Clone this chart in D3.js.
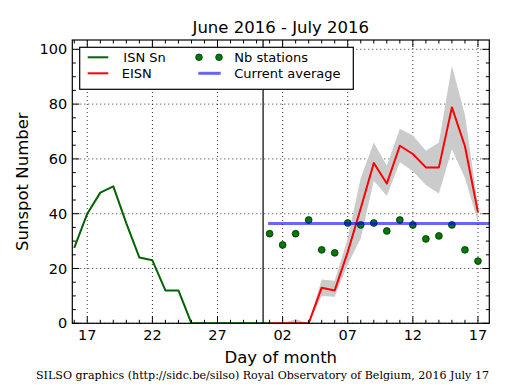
<!DOCTYPE html>
<html>
<head>
<meta charset="utf-8">
<script src="https://cdn.jsdelivr.net/npm/d3@7"></script>
<style>
  html, body { margin: 0; padding: 0; background: #fff; }
  svg { display: block; }
  text { font-family: "DejaVu Sans", sans-serif; fill: #000; }
  text.credit { font-family: "DejaVu Serif", "Liberation Serif", serif; }
</style>
</head>
<body>
<svg id="chart" width="515" height="390"></svg>
<script>
// ---------------- data ----------------
const isnDates = ["2016-06-16","2016-06-17","2016-06-18","2016-06-19","2016-06-20","2016-06-21","2016-06-22","2016-06-23","2016-06-24","2016-06-25","2016-06-26","2016-06-27","2016-06-28","2016-06-29","2016-06-30","2016-07-01"];
const isnValues = [27.5, 40, 47.7, 50, 36.5, 24, 23, 12, 12, 0, 0, 0, 0, 0, 0, 0];

const eisnDates = ["2016-07-01","2016-07-02","2016-07-03","2016-07-04","2016-07-05","2016-07-06","2016-07-07","2016-07-08","2016-07-09","2016-07-10","2016-07-11","2016-07-12","2016-07-13","2016-07-14","2016-07-15","2016-07-16","2016-07-17"];
const eisnValues = [0, 0, 0, 0, 13, 12, 26, 42, 58.5, 51, 64.8, 61.8, 56.9, 56.9, 78.8, 64.6, 40.5];
const eisnUpper  = [0, 0, 1.5, 0, 16, 15.5, 31, 53, 66, 57.5, 71, 68.5, 63, 66, 94, 76, 43];
const eisnLower  = [0, 0, 0, 0, 10, 9.7, 21.5, 31, 52, 46.5, 58.8, 55.5, 50.5, 47.4, 63.5, 53, 37];
const nbStations = [32.7, 28.6, 32.7, 37.7, 26.8, 25.7, 36.6, 35.9, 36.6, 33.7, 37.7, 35.9, 30.8, 31.9, 35.9, 26.8, 22.7];

const currentAverage = 36.4;
const averageStart = "2016-07-01";
const monthBoundary = "2016-06-30T12:00:00Z";

const xTickDates = ["2016-06-17","2016-06-22","2016-06-27","2016-07-02","2016-07-07","2016-07-12","2016-07-17"];
const xDomain = ["2016-06-15T20:24:00Z","2016-07-17T20:53:00Z"];
const yMajorTicks = [0, 20, 40, 60, 80, 100];
const yDomain = [0, 103.4];

const titleText = "June 2016 - July 2016";
const xLabel = "Day of month";
const yLabel = "Sunspot Number";
const creditText = "SILSO graphics (http://sidc.be/silso) Royal Observatory of Belgium, 2016 July 17";
const legendLabels = ["ISN Sn", "EISN", "Nb stations", "Current average"];

// ---------------- layout ----------------
const svg = d3.select("#chart");
const L = 72.3, R = 489.3, T = 40, B = 323.3;
const parse = s => new Date(s.length === 10 ? s + "T00:00:00Z" : s);

const x = d3.scaleUtc().domain(xDomain.map(parse)).range([L, R]);
const y = d3.scaleLinear().domain(yDomain).range([B, T]);

const defs = svg.append("defs");
defs.append("clipPath").attr("id", "clip")
  .append("rect").attr("x", L).attr("y", T).attr("width", R - L).attr("height", B - T);

// grid
const grid = svg.append("g");
xTickDates.forEach(d => {
  grid.append("line").attr("x1", x(parse(d))).attr("x2", x(parse(d)))
    .attr("y1", T).attr("y2", B)
    .attr("stroke", "#000").attr("stroke-width", 0.8).attr("stroke-dasharray", "1,3");
});
yMajorTicks.forEach(v => {
  grid.append("line").attr("x1", L).attr("x2", R).attr("y1", y(v)).attr("y2", y(v))
    .attr("stroke", "#000").attr("stroke-width", 0.8).attr("stroke-dasharray", "1,3");
});

const plot = svg.append("g").attr("clip-path", "url(#clip)");

const eisn = eisnDates.map((d, i) => ({ d: parse(d), v: eisnValues[i], hi: eisnUpper[i], lo: eisnLower[i], n: nbStations[i] }));
const isn = isnDates.map((d, i) => ({ d: parse(d), v: isnValues[i] }));

// uncertainty band
plot.append("path").datum(eisn)
  .attr("d", d3.area().x(p => x(p.d)).y0(p => y(p.lo)).y1(p => y(p.hi)))
  .attr("fill", "#cbcbcb").attr("stroke", "none");

// ISN line
plot.append("path").datum(isn)
  .attr("d", d3.line().x(p => x(p.d)).y(p => y(p.v)))
  .attr("fill", "none").attr("stroke", "#006400").attr("stroke-width", 2).attr("stroke-linejoin", "round");

// EISN line
plot.append("path").datum(eisn)
  .attr("d", d3.line().x(p => x(p.d)).y(p => y(p.v)))
  .attr("fill", "none").attr("stroke", "#ff0000").attr("stroke-width", 2).attr("stroke-linejoin", "round");

// vertical month boundary
svg.append("line").attr("x1", x(parse(monthBoundary))).attr("x2", x(parse(monthBoundary)))
  .attr("y1", T).attr("y2", B).attr("stroke", "#000").attr("stroke-width", 1.2);

// station dots
plot.selectAll("circle.nb").data(eisn).join("circle").attr("class", "nb")
  .attr("cx", p => x(p.d)).attr("cy", p => y(p.n)).attr("r", 3.4)
  .attr("fill", "#007a00").attr("stroke", "#0a2a0a").attr("stroke-width", 0.8);

// current average line
plot.append("line")
  .attr("x1", x(parse(averageStart))).attr("x2", R)
  .attr("y1", y(currentAverage)).attr("y2", y(currentAverage))
  .attr("stroke", "rgba(0,0,255,0.6)").attr("stroke-width", 3).attr("stroke-linecap", "square");

// ---------------- axes frame & ticks ----------------
const axes = svg.append("g");
axes.append("rect").attr("x", L).attr("y", T).attr("width", R - L).attr("height", B - T)
  .attr("fill", "none").attr("stroke", "#000").attr("stroke-width", 1.2);

const majLen = 7, minLen = 3.5;
const minorDays = d3.utcDay.range(d3.utcDay.ceil(x.domain()[0]), x.domain()[1]);
const majorSet = new Set(xTickDates.map(d => +parse(d)));
minorDays.forEach(d => {
  const len = majorSet.has(+d) ? majLen : minLen;
  const xx = x(d);
  axes.append("line").attr("x1", xx).attr("x2", xx).attr("y1", B).attr("y2", B - len).attr("stroke", "#000");
  axes.append("line").attr("x1", xx).attr("x2", xx).attr("y1", T).attr("y2", T + len).attr("stroke", "#000");
});
const fmt = d3.utcFormat("%d");
xTickDates.forEach(d => {
  axes.append("text").attr("x", x(parse(d))).attr("y", B + 17)
    .attr("text-anchor", "middle").attr("font-size", "14.5px").text(fmt(parse(d)));
});
d3.range(0, yDomain[1], 5).forEach(v => {
  const len = yMajorTicks.includes(v) ? majLen : minLen;
  const yy = y(v);
  axes.append("line").attr("x1", L).attr("x2", L + len).attr("y1", yy).attr("y2", yy).attr("stroke", "#000");
  axes.append("line").attr("x1", R).attr("x2", R - len).attr("y1", yy).attr("y2", yy).attr("stroke", "#000");
});
yMajorTicks.forEach(v => {
  axes.append("text").attr("x", L - 5).attr("y", y(v) + 5)
    .attr("text-anchor", "end").attr("font-size", "14.5px").text(v);
});

// ---------------- texts ----------------
svg.append("text").attr("x", (L + R) / 2).attr("y", 32.5).attr("text-anchor", "middle")
  .attr("font-size", "16.5px").text(titleText);
svg.append("text").attr("x", (L + R) / 2).attr("y", 363).attr("text-anchor", "middle")
  .attr("font-size", "16.5px").text(xLabel);
svg.append("text").attr("transform", `translate(28,${(T + B) / 2}) rotate(-90)`)
  .attr("text-anchor", "middle").attr("font-size", "16.5px").text(yLabel);
svg.append("text").attr("class", "credit").attr("x", 36).attr("y", 379)
  .attr("font-size", "11px")
  .attr("textLength", 453).attr("lengthAdjust", "spacingAndGlyphs").text(creditText);

// ---------------- legend ----------------
const lg = svg.append("g");
lg.append("rect").attr("x", 79.7).attr("y", 47.3).attr("width", 273.6).attr("height", 42)
  .attr("fill", "#fff").attr("stroke", "#000").attr("stroke-width", 1.2);
const row1 = 57.3, row2 = 73.3;
lg.append("line").attr("x1", 87.7).attr("x2", 108.3).attr("y1", row1).attr("y2", row1)
  .attr("stroke", "#006400").attr("stroke-width", 2);
lg.append("line").attr("x1", 87.7).attr("x2", 108.3).attr("y1", row2).attr("y2", row2)
  .attr("stroke", "#ff0000").attr("stroke-width", 2);
[199, 219].forEach(cx => lg.append("circle").attr("cx", cx).attr("cy", row1).attr("r", 3.3)
  .attr("fill", "#007a00").attr("stroke", "#0a2a0a").attr("stroke-width", 0.8));
lg.append("line").attr("x1", 198.3).attr("x2", 220.7).attr("y1", row2).attr("y2", row2)
  .attr("stroke", "rgba(0,0,255,0.6)").attr("stroke-width", 3);
const lx = [123.3, 121.7, 234.3, 234.3], ly = [row1, row2, row1, row2];
legendLabels.forEach((t, i) => lg.append("text").attr("x", lx[i]).attr("y", ly[i] + 4.7)
  .attr("font-size", "13px").text(t));
</script>
</body>
</html>
